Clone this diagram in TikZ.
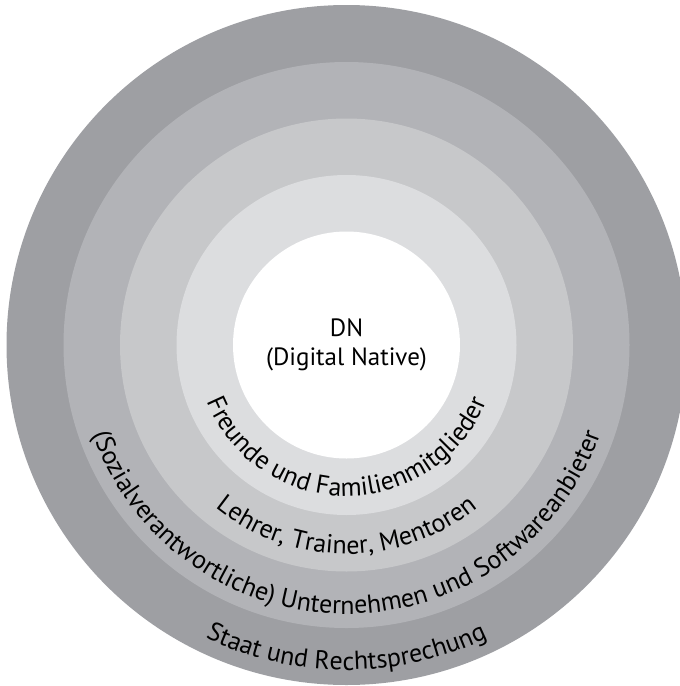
\documentclass[tikz,border=0pt]{standalone}
\usepackage{fontspec}
\setmainfont{PT Sans}
\usetikzlibrary{decorations.text}
\definecolor{staatgray}{HTML}{9E9FA3}
\definecolor{firmgray}{HTML}{B2B3B7}
\definecolor{lehrgray}{HTML}{C7C8CA}
\definecolor{famgray}{HTML}{DCDDDF}
\newcommand\ringfont{\fontsize{26}{31}\selectfont}
\tikzset{ringtext/.style={decorate, decoration={text along path, text align=center}}}
\begin{document}
\begin{tikzpicture}[x=1pt,y=1pt]
\clip (0,0) rectangle (680,-686);
\coordinate(c) at (346.5,-345);
\fill[staatgray] (c) circle (340);
\fill[firmgray] (c) circle (283);
\fill[lehrgray] (c) circle (226.5);
\fill[famgray] (c) circle (170);
\fill[white] (c) circle (113.5);
\node(dn) at (c) [align=center, font=\fontsize{25}{29}\selectfont]{DN\\(Digital Native)};

\path[ringtext, decoration={text={|\ringfont|Freunde und Familienmitglieder}}] (c) ++(180:151) arc[start angle=180, end angle=360, radius=151];
\path[ringtext, decoration={text={|\ringfont|Lehrer, Trainer, Mentoren}}] (c) ++(180:209) arc[start angle=180, end angle=360, radius=209];
\path[ringtext, decoration={text={|\ringfont|(Sozialverantwortliche) Unternehmen und Softwareanbieter}}] (c) ++(180:269) arc[start angle=180, end angle=360, radius=269];
\path[ringtext, decoration={text={|\ringfont|Staat und Rechtsprechung}}] (c) ++(180:325) arc[start angle=180, end angle=360, radius=325];
\end{tikzpicture}
\end{document}
